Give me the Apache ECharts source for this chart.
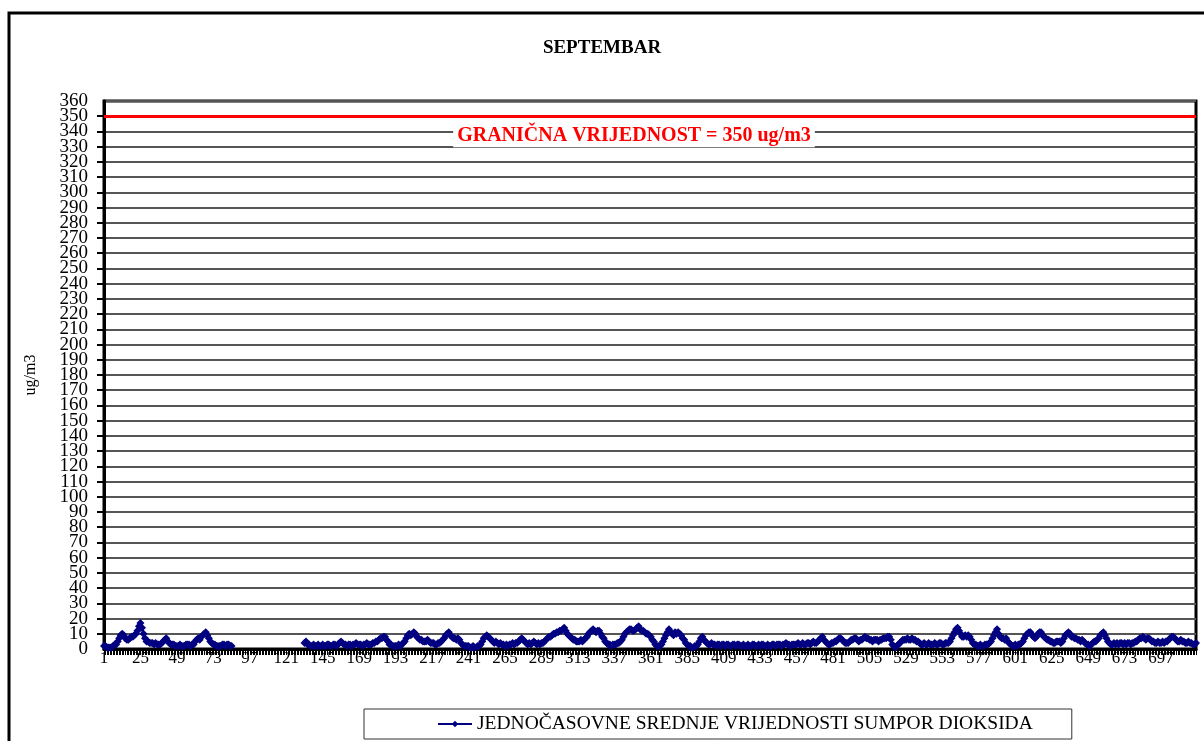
<!DOCTYPE html>
<html><head><meta charset="utf-8">
<script src="https://cdn.jsdelivr.net/npm/echarts@6/dist/echarts.min.js"></script>
<style>html,body{margin:0;padding:0;background:#fff}#c{width:1204px;height:741px}</style>
</head><body><div id="c"></div><script>
const N = null;
const chartTitle = 'SEPTEMBAR';
const seriesName = 'JEDNOČASOVNE SREDNJE VRIJEDNOSTI SUMPOR DIOKSIDA';
const yAxisName = 'ug/m3';
const limitValue = 350;
const limitLabel = 'GRANIČNA VRIJEDNOST = 350 ug/m3';
const yMin = 0, yMax = 360, yStep = 10;
const xLabelEvery = 24;
// hourly categories 1..720 (30 days x 24 h)
const hours = Array.from({length: 720}, (_, i) => String(i + 1));
// hourly SO2 values (ug/m3), one row per day
const so2 = [
  2,2,1,1,1,1,2,3,3,5,7,9,10,9,7,6,6,7,8,8,9,10,12,15,
  17,14,10,7,5,5,4,4,4,3,4,3,3,3,4,5,6,7,5,4,3,3,3,2,
  2,2,3,2,2,2,3,3,3,2,3,3,5,6,7,6,8,9,10,11,9,7,5,4,
  3,3,2,2,2,2,3,3,2,3,3,2,2,N,N,N,N,N,N,N,N,N,N,N,
  N,N,N,N,N,N,N,N,N,N,N,N,N,N,N,N,N,N,N,N,N,N,N,N,
  N,N,N,N,N,N,N,N,N,N,N,N,4,5,3,3,2,2,3,2,2,3,2,2,
  3,2,2,3,3,2,2,3,3,2,3,4,5,4,3,3,2,3,3,2,3,3,4,3,
  3,3,2,3,3,4,3,3,3,4,4,5,5,6,7,7,8,8,6,5,3,3,2,2,
  2,2,3,2,3,4,5,7,9,10,9,10,11,10,8,7,6,6,5,5,5,6,5,4,
  4,4,3,3,4,4,5,6,7,9,10,11,9,8,7,7,6,7,6,4,3,2,2,2,
  2,1,1,2,1,1,2,2,3,5,7,8,9,8,7,6,5,4,5,4,3,4,3,3,
  2,3,2,3,3,4,3,4,4,5,6,7,6,5,4,3,4,3,4,5,4,3,4,3,
  4,4,5,6,7,8,8,9,10,10,11,11,12,12,13,14,12,10,9,8,7,6,6,5,
  5,5,6,5,6,7,8,10,11,12,13,12,11,12,12,10,8,7,5,4,3,3,2,3,
  3,3,4,4,5,6,8,10,11,12,13,13,12,12,13,14,15,13,12,12,11,10,10,9,
  8,6,5,3,2,2,2,3,5,7,9,11,13,11,10,9,11,10,11,10,9,7,6,4,
  3,2,2,1,1,2,2,3,5,7,8,6,5,4,3,3,4,3,3,2,3,3,2,3,
  3,2,3,3,2,2,3,3,2,3,3,2,2,3,2,2,3,2,2,3,3,2,2,3,
  2,3,3,2,2,3,2,2,3,3,2,3,3,3,2,3,3,4,3,3,2,3,3,3,
  3,4,3,3,4,3,3,4,4,3,4,5,4,4,5,6,7,8,6,5,4,3,3,4,
  4,5,5,6,7,7,6,5,4,4,4,5,6,6,7,7,6,5,6,6,7,8,7,7,
  6,6,5,6,6,6,5,6,6,7,7,7,8,8,6,3,2,1,2,3,4,5,6,6,
  6,7,6,6,7,6,6,5,5,4,3,3,4,3,3,4,3,3,3,4,3,3,4,4,
  3,3,4,4,4,5,7,9,11,13,14,12,10,8,8,9,8,9,8,6,4,3,3,2,
  2,3,2,2,3,3,3,4,5,7,9,11,13,10,8,7,7,6,7,5,4,3,2,2,
  3,2,3,3,4,5,7,9,10,11,11,9,8,7,8,10,11,11,9,8,7,6,6,5,
  5,4,4,5,5,5,4,5,7,9,10,11,10,8,8,7,7,6,6,5,6,5,4,3,
  3,2,3,4,5,5,6,7,9,10,11,9,7,5,4,3,3,4,3,4,3,4,4,3,
  4,3,4,4,3,4,4,5,5,6,7,7,8,7,6,7,7,6,5,5,4,4,5,4,
  4,5,4,5,5,6,7,8,8,7,6,5,5,6,5,5,4,4,5,4,4,3,3,4
];

const FONT = 'Liberation Serif';
const yLabelStyle = {fontFamily: FONT, fontSize: 19, color: '#000', margin: 16};
const chart = echarts.init(document.getElementById('c'), null, {renderer: 'canvas'});
chart.setOption({
  animation: false,
  backgroundColor: '#fff',
  title: {
    text: chartTitle, left: 'center', top: 34,
    textStyle: {fontFamily: FONT, fontSize: 19, fontWeight: 'bold', color: '#000'}
  },
  graphic: [{
    type: 'rect', z: -10, silent: true,
    shape: {x: 9, y: 13, width: 1300, height: 800},
    style: {fill: 'none', stroke: '#000', lineWidth: 3}
  }],
  grid: {left: 104, right: 8, top: 101, bottom: 92, show: true, borderColor: '#000', borderWidth: 3, containLabel: false},
  legend: {
    data: [seriesName], left: 364, top: 709, padding: [5, 39, 5, 73],
    borderColor: '#333', borderWidth: 1, itemWidth: 34, itemHeight: 8, itemGap: 0,
    textStyle: {fontFamily: FONT, fontSize: 19.5, color: '#000'}
  },
  xAxis: {
    type: 'category', data: hours, boundaryGap: false,
    axisLine: {lineStyle: {color: '#000', width: 3}},
    axisTick: {show: true, interval: 0, length: 6, lineStyle: {color: '#000', width: 1}},
    axisLabel: {interval: xLabelEvery - 1, fontFamily: FONT, fontSize: 17, color: '#000', margin: 1},
    splitLine: {show: false}
  },
  yAxis: [{
    type: 'value', min: yMin, max: yMax, interval: yStep,
    name: yAxisName, nameLocation: 'middle', nameGap: 65, nameRotate: 90,
    nameTextStyle: {fontFamily: FONT, fontSize: 16, color: '#000'},
    axisLine: {show: true, lineStyle: {color: '#000', width: 3}},
    axisTick: {show: true, length: 7, lineStyle: {color: '#000', width: 2}},
    axisLabel: yLabelStyle,
    splitLine: {show: true, lineStyle: {color: '#555', width: 2}}
  }, {
    // second axis on the same side only to show the end labels (0 and 360)
    type: 'value', position: 'left', offset: 0, min: yMin, max: yMax, interval: yMax - yMin,
    axisLine: {show: false}, axisTick: {show: false}, splitLine: {show: false},
    axisLabel: Object.assign({showMinLabel: true, showMaxLabel: true}, yLabelStyle)
  }],
  series: [{
    type: 'line', name: seriesName, data: so2, yAxisIndex: 0,
    color: '#000080',
    lineStyle: {color: '#000080', width: 2.5},
    itemStyle: {color: '#000080'},
    symbol: 'diamond', symbolSize: 8, showAllSymbol: true, connectNulls: false,
    markLine: {
      silent: true, symbol: 'none',
      data: [{yAxis: limitValue}],
      lineStyle: {color: '#ff0000', width: 3, type: 'solid'},
      label: {
        show: true, formatter: limitLabel, position: 'insideMiddleBottom', distance: 8,
        offset: [-16, 0],
        color: '#ff0000', fontFamily: FONT, fontWeight: 'bold', fontSize: 20,
        backgroundColor: '#fff', padding: [2, 4, 1, 4]
      }
    }
  }]
});
</script></body></html>
